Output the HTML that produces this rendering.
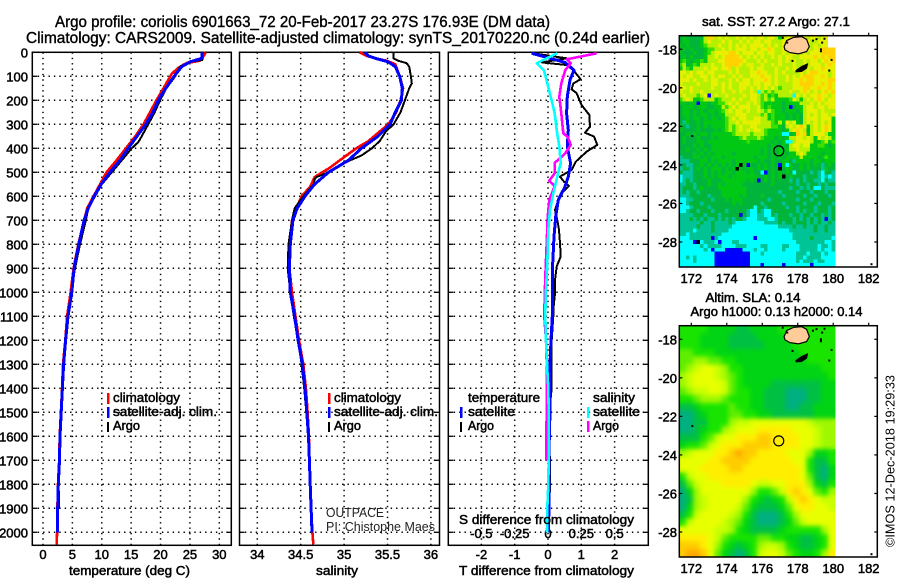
<!DOCTYPE html>
<html>
<head>
<meta charset="utf-8">
<title>Argo profile chart</title>
<style>
html,body{margin:0;padding:0;background:#fff;width:900px;height:580px;overflow:hidden}
svg{display:block}
text{font-family:"Liberation Sans",sans-serif;font-size:13px;fill:#000;stroke:#000;stroke-width:.5}
.thin{stroke-width:0;fill:#222}
</style>
</head>
<body>
<svg id="chart" width="900" height="580" viewBox="0 0 900 580" xmlns="http://www.w3.org/2000/svg">
  <defs>
    <filter id="sla-blur" color-interpolation-filters="sRGB"><feGaussianBlur stdDeviation="2.5"/></filter>
    <clipPath id="sla-clip"><rect x="679.3" y="325.7" width="155.7" height="231.3"/></clipPath>
  </defs>
  <g id="maps"></g>
  <g id="panels"></g>
  <text x="55" y="27" textLength="495" lengthAdjust="spacingAndGlyphs" style="font-size:16px;stroke-width:.4">Argo profile: coriolis 6901663_72 20-Feb-2017 23.27S 176.93E (DM data)</text>
  <text x="26" y="43" textLength="624" lengthAdjust="spacingAndGlyphs" style="font-size:16px;stroke-width:.4">Climatology: CARS2009. Satellite-adjusted climatology: synTS_20170220.nc (0.24d earlier)</text>

  <text x="69" y="575" textLength="121" lengthAdjust="spacingAndGlyphs">temperature (deg C)</text>
  <text x="316" y="575" textLength="42" lengthAdjust="spacingAndGlyphs">salinity</text>
  <text x="459" y="575" textLength="175" lengthAdjust="spacingAndGlyphs">T difference from climatology</text>

  <rect x="107" y="393" width="2.5" height="11" fill="#ff0000"/>
  <text x="113" y="402" textLength="67" lengthAdjust="spacingAndGlyphs">climatology</text>
  <rect x="107" y="407" width="2.5" height="11" fill="#0000ff"/>
  <text x="113" y="416" textLength="104" lengthAdjust="spacingAndGlyphs">satellite-adj. clim.</text>
  <rect x="107" y="422" width="2" height="10" fill="#000"/>
  <text x="113" y="430" textLength="27" lengthAdjust="spacingAndGlyphs">Argo</text>

  <rect x="328" y="393" width="2.5" height="11" fill="#ff0000"/>
  <text x="334" y="402" textLength="67" lengthAdjust="spacingAndGlyphs">climatology</text>
  <rect x="328" y="407" width="2.5" height="11" fill="#0000ff"/>
  <text x="334" y="416" textLength="104" lengthAdjust="spacingAndGlyphs">satellite-adj. clim.</text>
  <rect x="328" y="422" width="2" height="10" fill="#000"/>
  <text x="334" y="430" textLength="27" lengthAdjust="spacingAndGlyphs">Argo</text>

  <text class="thin" x="326" y="517" textLength="58" lengthAdjust="spacingAndGlyphs">OUTPACE</text>
  <text class="thin" x="326" y="531" textLength="109" lengthAdjust="spacingAndGlyphs">PI: Chistophe Maes</text>

  <text x="468" y="402" textLength="72" lengthAdjust="spacingAndGlyphs">temperature</text>
  <rect x="460" y="407" width="2.5" height="11" fill="#0000ff"/>
  <text x="468" y="416" textLength="47" lengthAdjust="spacingAndGlyphs">satellite</text>
  <rect x="460" y="422" width="2" height="10" fill="#000"/>
  <text x="468" y="430" textLength="26" lengthAdjust="spacingAndGlyphs">Argo</text>
  <text x="593" y="402" textLength="42" lengthAdjust="spacingAndGlyphs">salinity</text>
  <rect x="587" y="407" width="2.5" height="11" fill="#00ffff"/>
  <text x="593" y="416" textLength="47" lengthAdjust="spacingAndGlyphs">satellite</text>
  <rect x="587" y="421" width="2.5" height="11" fill="#ff00ff"/>
  <text x="593" y="430" textLength="26" lengthAdjust="spacingAndGlyphs">Argo</text>
  <text x="459" y="524" textLength="175" lengthAdjust="spacingAndGlyphs">S difference from climatology</text>

  <text x="776" y="26" text-anchor="middle" textLength="148" lengthAdjust="spacingAndGlyphs">sat. SST: 27.2 Argo: 27.1</text>
  <text x="753" y="302" text-anchor="middle" textLength="95" lengthAdjust="spacingAndGlyphs">Altim. SLA: 0.14</text>
  <text x="776.5" y="316" text-anchor="middle" textLength="172" lengthAdjust="spacingAndGlyphs">Argo h1000: 0.13 h2000: 0.14</text>
  <text class="thin" x="0" y="0" transform="translate(894.5,547) rotate(-90)" textLength="172" lengthAdjust="spacingAndGlyphs" style="fill:#000">©IMOS 12-Dec-2018 19:29:33</text>
</svg>
<script>
// ---- tick labels ----
const depthTicks = [0,100,200,300,400,500,600,700,800,900,1000,1100,1200,1300,1400,1500,1600,1700,1800,1900,2000];
const tempTicks = [0,5,10,15,20,25,30];
const salTicks = [34,34.5,35,35.5,36];
const tDiffTicks = [-2,-1,0,1,2];
const sDiffTicks = [-0.5,-0.25,0,0.25,0.5];
const sDiffLabels = ['-0.5','-0.25','0','0.25','0.5'];
const lonTicks = [172,174,176,178,180,182];
const latTicks = [-18,-20,-22,-24,-26,-28];

// ---- temperature profiles ----
const tempClimDepth = [0,25,35,45,65,90,150,200,250,300,350,400,450,500,550,600,650,700,800,900,1000,1100,1200,1300,1400,1500,1600,1700,1800,1900,2000,2050];
const tempClimValues = [27.7,27.1,26.7,24.4,23,21.9,20.5,19.3,18.2,17.1,15.7,14.1,12.5,10.8,9.7,8.6,7.5,7,6,5.2,4.7,4.1,3.8,3.4,3.25,3.05,2.85,2.75,2.55,2.45,2.4,2.33];
const tempSatDepth = [0,25,40,60,100,150,200,250,300,350,400,450,500,550,600,650,700,800,900,1000,1100,1200,1300,1400,1500,1600,1700,1800,1900,2000];
const tempSatValues = [27.1,27,25,23.6,22.3,20.9,19.6,18.7,17.5,16,14.5,13.1,11.4,9.9,8.7,7.7,7,6.1,5.3,4.9,4.25,3.85,3.5,3.3,3.1,2.9,2.8,2.6,2.5,2.45];
const tempArgoDepth = [0,32,39,60,100,150,200,250,300,350,375,400,450,500,550,600,650,700,800,900,1000,1100,1200,1300,1400,1500,1600,1700,1800,1900];
const tempArgoValues = [27.1,27.1,25,23.3,22.5,21,19.9,19,17.9,16.8,16.2,15.1,13.4,11.7,10,8.85,7.7,7.3,6.3,5.45,4.8,4.25,3.75,3.5,3.3,3.15,2.95,2.8,2.65,2.75];

// ---- salinity profiles ----
const salClimDepth = [0,15,25,35,50,100,150,200,250,300,330,370,400,450,480,520,560,600,650,700,800,900,1000,1100,1200,1300,1400,1500,1600,1700,1800,1900,2000,2050];
const salClimValues = [35.18,35.26,35.36,35.49,35.59,35.64,35.68,35.65,35.6,35.51,35.41,35.28,35.14,34.95,34.84,34.66,34.61,34.51,34.45,34.4,34.37,34.37,34.4,34.44,34.48,34.53,34.56,34.58,34.595,34.6,34.61,34.62,34.635,34.645];
const salSatDepth = [0,15,25,40,60,100,150,200,250,300,350,400,450,500,550,600,650,700,800,900,1000,1100,1200,1300,1400,1500,1600,1700,1800,1900,2000];
const salSatValues = [35.24,35.28,35.36,35.51,35.59,35.64,35.67,35.66,35.59,35.53,35.39,35.2,35.05,34.82,34.66,34.55,34.46,34.41,34.38,34.37,34.38,34.43,34.47,34.52,34.55,34.57,34.59,34.6,34.61,34.62,34.63];
const salArgoDepth = [0,25,35,45,60,100,130,150,200,250,300,330,370,400,430,450,480,500,520,530,550,600,650,700,800,900,1000,1100,1200,1300,1400,1500,1600,1700];
const salArgoValues = [35.57,35.57,35.62,35.72,35.75,35.77,35.78,35.75,35.7,35.65,35.57,35.48,35.41,35.32,35.2,35.07,34.91,34.82,34.68,34.66,34.65,34.53,34.43,34.4,34.36,34.35,34.38,34.42,34.47,34.51,34.54,34.565,34.585,34.595];

// ---- differences from climatology ----
const dTArgoDepth = [4,25,42,53,74,112,130,154,170,220,261,310,335,351,386,414,455,490,518,539,557,587,615,657,699,740,796,851,893,949,1004,1074,1100,1200,1300,1400,1500,1600,1700,1800,1900,2000];
const dTArgoValues = [-0.44,0.56,-0.19,0.56,0.76,0.98,0.76,0.71,0.86,1.01,1.24,1.26,1.11,1.38,1.48,1.16,0.84,0.71,0.36,0.48,0.63,0.41,0.31,0.21,0.28,0.33,0.36,0.38,0.26,0.21,0.21,0.16,0.16,0.11,0.11,0.11,0.04,0.02,0.06,0.06,0.04,0.01];
const dTSatDepth = [4,25,42,74,115,185,254,324,393,462,518,560,615,685,768,879,1018,1100,1200,1300,1400,1500,1600,1700,1800,1900,2000];
const dTSatValues = [-0.49,0.06,0.51,0.78,0.66,0.58,0.56,0.61,0.58,0.68,0.61,0.51,0.31,0.23,0.18,0.14,0.14,0.13,0.09,0.06,0.06,0.06,0.04,0.03,0.03,0.03,0.01];
const dSArgoDepth = [4,29,46,74,129,185,254,337,354,386,421,442,460,504,535,557,615,685,796,935,1018,1100,1200,1300,1400,1500,1600,1700];
const dSArgoValues = [0.365,0.14,0.17,0.13,0.1,0.085,0.1,0.115,0.15,0.17,0.13,0.09,0.05,0.05,0.01,0.05,0.01,-0.0025,-0.01,-0.02,-0.025,-0.0275,-0.015,-0.01,-0.0075,-0.01,-0.0125,-0.0125];
const dSSatDepth = [4,25,46,76,129,185,254,324,393,462,518,587,657,740,879,1018,1100,1200,1300,1400,1500,1600,1700,1800,1900,2000];
const dSSatValues = [0.07,-0.01,-0.085,-0.03,-0.005,0.02,0.05,0.065,0.085,0.095,0.07,0.04,0.015,0.0025,-0.005,-0.0175,-0.02,-0.015,-0.0075,0.0025,0.005,0.005,0.005,0.0025,-0.005,-0.0075];

// ---- SST grid: 44 columns x 60 rows, 0.2 degree cells, from 17.3S, 171.3E ----
const sstRows = [
"cdcccccfhhf gfgffgfgfgf ggfggfdfggg gfgfggfgg..",
"cddcccdfgff fgfgffgfgfg gfggfffgggg ggfgffggg..",
"dcdcccdefff gffgfgfgfgg ggfgfgfgggg ggfgfgfgg..",
"cdcdcccdeef fgfgfgggfgg fgghgffgggg gfggfgghhhh",
"dcccdccdefg ggghhgfgggf ggfggffgfgg gfgfggghhhh",
"cdcdcccdffg fghhhhgfgfg fgffgfgfggf fgggghghghh",
"dedcddedfff gghhhhhgfff gfgfffgfgfg ffgfggfghgh",
"efcdedfffgf fghhhhgfggf fgffgfgfffg ffgfgggfghg",
"dfedfffgfgg fgghfgfffgf ggfffgffgfg fgfgfgghggg",
"ggfgfggfggf fffgfgfffgg hggffgfgfff fgfghhgggfg",
"gfggffggfgf ggffgfgffgg ghggfgffgfg fghhhgghgfg",
"gggfgffgfgg fffgfgfggfg gghgfgffgfg ghghhgggghh",
"gffffgfffgg fgfgffgggfg gfggfgffffg ghhhhgghghg",
"ggfgfffffgf fgfgffggfgf gfgfgfefffg gghhgghgghg",
"gffgffgffff fgffgfgffgf afefeffffgf fghgfgfghgh",
"fgfffefgBfg ffgffffgfgg fefdedffffa gfgfgghggfg",
"efgfddefffd efffgfgffgg fefefddddeg fdfgfghgfgg",
"ddcddBddcdd eefgfgffgfg fedddddcddd dfffgfgfggg",
"cdddcdddccd dfefgfgggff gededddcdBc ddfggfggfgg",
"cddcdcdcddc defgfggfgff gfefeddcddd cdfgggfgfff",
"cddcdcddcdc ddfffgggfff fefdedddcdc dcfgfgfggfg",
"ccdcddcdcdd cdefgfggffg gffdedddcdc dcfgggfgggd",
"cbdccdcdddd ddeffgfgggg gfffedfdgfg dcfgfgfgfgd",
"dcbccdcdcdd ddefefgffgg ffffeedcfgf ghgdfgfghgd",
"dccccdccccd cdefefgfgfg gfeddddcdfg hgfcfgfghgd",
"ccdcdcddcdd ddddeffffef ffeddddaacd hghdfgggfdd",
"cdcccdcccdc ddddddefeee fedddcdcdff ggfgfdgfgfd",
"cdcccddcddd ddddddddedd ddddcdcdaaf ggggfddefde",
"ccccdcdccdd ddddddddddd dddcdccdcfg gfggddeedcd",
"ccdccdcdcdd ddddddddddd dcdcdcdcdff gfffddddddd",
"ccccdcdcdcd ddddcdddddd dcdcdcddcdd fgfddddcddd",
"bcccddcdcdd dcddddddddc dddcdcdcddd dfddddcdedd",
"bbbcccddcdc ddddcdddddd cdccdccddcb ddddcddcddd",
"bcbbccdcdcd cdcdcdKdBcc dcdcdcBdadc cdcdcdcbcdc",
"bccbcdcdcdd dcdcdKdcddc dcdcdcKcddc cdcdcccbdcc",
"cbbbcccdcdc dcddcdddcdc caBcdcdcdca ccccbcbaccb",
"abbbcccdcdc dddcddddddd ccdcdcdKcdc ccbcccbabab",
"abcbccccdcc cdddddddcdc Bcdcdccccbc bcbccbbacbb",
"bbccbcccdcc dcdddddcccc ccccdcccccc bccbccbcbcc",
"bcccbcdcccc ddddddddccc cccccccccbc cbcbcaacbbb",
"bcbccbccccc cdddddddccc ccccccbcccc bcccbcccbcc",
"bbbcccccbcc cdddddcdccc cdcccccbccc ccbccbcccbc",
"aabbcccccbc ccdcdddcccc cccbccccccc bcccbcccccc",
"aabcccbcccc ccccdcdcccc cbcccccbccc ccbcccbcccb",
"aaabccccbcc cccccccccca ccbcccccbcc bccccbcccbc",
"aabccbcccbc ccbcccccbaa cbaaccccccc bcbccbcccbc",
"bbbbcccbccc bcccccBcbaa bbaacbcccbc cbccbccbcbc",
"bbbcbcbcbbc bcbcbccbaaa bbbaabccccb cbcbcbcbBbc",
"bbbbbbcbbcb bbbcbaaaaaa aabbbbcbccb cccbcbcbbcb",
"bbbbbcbbbcb bbbbaaaaaaa aaaaaabbbbc bbcbbcbbcbb",
"bbbbabbbbcb bbbaaaaaaaa aaaaaaaaabb bbbbbcbbcbb",
"bbabbbbbbbb baaaaaaaaaa aaaaaaaaaab bbbbbbbbbbb",
"aaabbbbbbBb aaaaaaaaaaB aaaaaaaaaab bbbbcbbbbba",
"aaaaBKabbba Baaabbaaaaa aaaaaaaaaaa bbbbbbbbaab",
"aaaaaababbb baaaabbbaaa abbaaaabbaa abbbbbabbab",
"aaaaaaabaBa aaBBBBBaaab aabaaaabaaa abbbbbabaab",
"aaaaaaaaaaB BBBBBBBBBaa abaaaaaaaaa bbbabbbabaa",
"aababaaaaaB BBBBBBBBBaa aaaaaaaaaaa bbabbbbaaaa",
"aaaabaaaaaB BBBBBBBBBaa aaaaaaaaaaa babbbabbaaa",
"aaaaaaaaaaB BBBBBBBBBaa aBaaaaaBaaa aaaaBaaaaaa"
];
const sstPalette = {a:'#00ffff',b:'#00c496',c:'#00b43c',d:'#00c814',e:'#3ce000',f:'#b4f000',g:'#e6f000',h:'#ffd200',B:'#0000ff',K:'#000000'};

// ---- Sea level anomaly grid: 22 columns x 30 rows, 0.4 degree cells ----
const slaRows = [
"3333222211222233333333",
"3332222111122223333333",
"3332222111112222333333",
"4433322222222222233333",
"4455443322222222223333",
"4567765332222222222233",
"5677765432222222222223",
"5677776432222111111122",
"4566776433221110001122",
"3345554333221110001122",
"1123333433221110011222",
"0012333443322111111222",
"0011333566777777776555",
"0012335677788888777655",
"1113467788899888877655",
"2334678889999888877655",
"5677788" + "9A99" + "8888" + "777" + "5223",
"7777889999888888773113",
"7778888998888888873102",
"3677" + "8888888888888" + "7" + "4102",
"1467778888766778885213",
"0257777777533468987435",
"0156777775321236898766",
"0256777764211124788776",
"1367777653100013577777",
"3677776542100012467777",
"7777766532111123333357",
"8888764333344332211237",
"9998753212356653211237",
"9AA9742101367764322358"
];
const slaPalette = {'0':'#00b080','1':'#00c044','2':'#00d414','3':'#18e400','4':'#60ee00','5':'#a0f800','6':'#c8ff00','7':'#e8ff00','8':'#ffee00','9':'#ffcc00','A':'#ffaa00'};

// ---- geography (lon, lat) ----
const mainIslandLon = [177.23,177.38,177.75,178.22,178.5,178.65,178.5,178.03,177.56,177.28];
const mainIslandLat = [-17.86,-17.55,-17.38,-17.34,-17.48,-17.86,-18.12,-18.24,-18.17,-18.03];
const smallIslandLon = [177.9,178.22,178.55,178.5,178.22,177.9];
const smallIslandLat = [-19.1,-18.9,-18.76,-18.98,-19.15,-19.17];
const isletLon = [177.1,177.35,178.8,179.0,179.25,179.25,179.32,179.45,179.85,179.72,177.65,172.0,182.1];
const isletLat = [-17.35,-17.6,-17.5,-17.42,-17.95,-18.05,-17.6,-17.4,-18.5,-19.05,-18.55,-22.45,-29.1];
const profileLon = [176.93];
const profileLat = [-23.27];

// ---- axis functions ----
const yDepth = d => 52.3 + d * 0.24;
const xTemp = t => 43 + t * 5.877;
const xSal = s => 257.3 + (s - 34) * 86.8;
const xDT = t => 548 + t * 33.3;
const xDS = s => 548 + s * 133.3;
const xLon = lon => 691.3 + (lon - 172) * 17.74;
const yLat = lat => 49.3 + (-18 - lat) * 19.27;

const NS = 'http://www.w3.org/2000/svg';
const panels = document.getElementById('panels');
const maps = document.getElementById('maps');
function mk(tag, attrs, parent) {
  const e = document.createElementNS(NS, tag);
  for (const k in attrs) e.setAttribute(k, attrs[k]);
  parent.appendChild(e);
  return e;
}
function pointsOf(xs, ys) { return xs.map((x, i) => x.toFixed(1) + ',' + ys[i].toFixed(1)).join(' '); }

// ---- profile panels ----
const panelDefs = [
  {key:'temperature', left:32.3, right:231.3, ticks:tempTicks, xf:xTemp, labels:tempTicks.map(String)},
  {key:'salinity', left:239.5, right:439.5, ticks:salTicks, xf:xSal, labels:['34','34.5','35','35.5','36']},
  {key:'difference', left:448.3, right:648.3, ticks:tDiffTicks, xf:xDT, labels:tDiffTicks.map(String)}
];
const TOP = 52.3, BOTTOM = 545.3;
panelDefs.forEach(p => {
  const g = mk('g', {}, panels);
  
  
  depthTicks.forEach(d => {
    const l = mk('line', {x1:p.left, x2:p.right, y1:yDepth(d), y2:yDepth(d), stroke:'#000', 'stroke-width':1.5, 'stroke-dasharray':'1.4 4'}, g);
    
    
    const a = mk('line', {x1:p.left, x2:p.left + 5, y1:yDepth(d), y2:yDepth(d), stroke:'#000', 'stroke-width':1.3}, g);
    
    
    const b = mk('line', {x1:p.right - 5, x2:p.right, y1:yDepth(d), y2:yDepth(d), stroke:'#000', 'stroke-width':1.3}, g);
    
    
  });
  p.ticks.forEach((t, i) => {
    const x = p.xf(t);
    const l = mk('line', {x1:x, x2:x, y1:TOP, y2:BOTTOM, stroke:'#000', 'stroke-width':1.5, 'stroke-dasharray':'1.4 4'}, g);
    
    
    const tx = mk('text', {x:x, y:559, 'text-anchor':'middle'}, g);
    tx.textContent = p.labels[i];
    
    
  });
  const box = mk('rect', {x:p.left, y:TOP, width:p.right - p.left, height:BOTTOM - TOP, fill:'none', stroke:'#000', 'stroke-width':1.5}, g);
  
  
});
depthTicks.forEach(d => {
  const t = mk('text', {x:28, y:yDepth(d) + 5, 'text-anchor':'end'}, panels);
  t.textContent = d;
  
  
});
sDiffTicks.forEach((s, i) => {
  const t = mk('text', {x:xDS(s), y:538, 'text-anchor':'middle'}, panels);
  t.textContent = sDiffLabels[i];
  
  
});

const seriesDefs = [
  {name:'temp-climatology', d:tempClimDepth, v:tempClimValues, xf:xTemp, c:'#ff0000', w:2.6},
  {name:'temp-argo', d:tempArgoDepth, v:tempArgoValues, xf:xTemp, c:'#000000', w:2},
  {name:'temp-satellite', d:tempSatDepth, v:tempSatValues, xf:xTemp, c:'#0000ff', w:3},
  {name:'sal-climatology', d:salClimDepth, v:salClimValues, xf:xSal, c:'#ff0000', w:2.6},
  {name:'sal-argo', d:salArgoDepth, v:salArgoValues, xf:xSal, c:'#000000', w:2},
  {name:'sal-satellite', d:salSatDepth, v:salSatValues, xf:xSal, c:'#0000ff', w:3},
  {name:'t-diff-argo', d:dTArgoDepth, v:dTArgoValues, xf:xDT, c:'#000000', w:2},
  {name:'t-diff-satellite', d:dTSatDepth, v:dTSatValues, xf:xDT, c:'#0000ff', w:3},
  {name:'s-diff-argo', d:dSArgoDepth, v:dSArgoValues, xf:xDS, c:'#ff00ff', w:2.6},
  {name:'s-diff-satellite', d:dSSatDepth, v:dSSatValues, xf:xDS, c:'#00ffff', w:2.6}
];
seriesDefs.forEach(s => {
  const line = mk('polyline', {points:pointsOf(s.v.map(s.xf), s.d.map(yDepth)), fill:'none', stroke:s.c, 'stroke-width':s.w, 'stroke-linejoin':'round', 'shape-rendering':'crispEdges'}, panels);
  
  
});

// ---- maps ----
const MAP_LEFT = 679.3, MAP_RIGHT = 877.3, MAP_W = MAP_RIGHT - MAP_LEFT, MAP_H = 231.3;
function drawMapFrame(g, top, labelY) {
  const off = top - 35.7;
  const island = mk('polygon', {points:pointsOf(mainIslandLon.map(xLon), mainIslandLat.map(v => yLat(v) + off)), fill:'#ffcc99', stroke:'#000', 'stroke-width':1.2}, g);
  
  
  const small = mk('polygon', {points:pointsOf(smallIslandLon.map(xLon), smallIslandLat.map(v => yLat(v) + off)), fill:'#000', stroke:'#000', 'stroke-width':1}, g);
  
  
  isletLon.forEach((lon, i) => {
    const r = mk('rect', {x:xLon(lon), y:yLat(isletLat[i]) + off, width:2, height:2, fill:'#000'}, g);
    
    
  });
  profileLon.forEach((lon, i) => {
    const c = mk('circle', {cx:xLon(lon), cy:yLat(profileLat[i]) + off, r:5, fill:'none', stroke:'#000', 'stroke-width':1.2}, g);
    
    
  });
  const frame = mk('rect', {x:MAP_LEFT, y:top, width:MAP_W, height:MAP_H, fill:'none', stroke:'#000', 'stroke-width':1.5}, g);
  
  
  lonTicks.forEach(lon => {
    const x = xLon(lon);
    const m = mk('line', {x1:x, x2:x, y1:top - 3, y2:top, stroke:'#000', 'stroke-width':1.2}, g);
    
    
    const t = mk('text', {x:x, y:labelY, 'text-anchor':'middle'}, g);
    t.textContent = lon;
    
    
  });
  latTicks.forEach(lat => {
    const y = yLat(lat) + off;
    const a = mk('line', {x1:MAP_LEFT, x2:MAP_LEFT + 3, y1:y, y2:y, stroke:'#000', 'stroke-width':1.2}, g);
    
    
    const b = mk('line', {x1:MAP_RIGHT - 3, x2:MAP_RIGHT, y1:y, y2:y, stroke:'#000', 'stroke-width':1.2}, g);
    
    
    const t = mk('text', {x:677, y:y + 5, 'text-anchor':'end'}, g);
    t.textContent = lat;
    
    
  });
}

const sstGroup = mk('g', {}, maps);


sstRows.map(r => r.replace(/ /g, '')).forEach((row, i) => {
  [...row].forEach((ch, j) => {
    if (!sstPalette[ch]) return;
    const x0 = xLon(171.3 + j * 0.2), x1 = xLon(171.3 + (j + 1) * 0.2);
    const y0 = yLat(-17.3 - i * 0.2), y1 = yLat(-17.3 - (i + 1) * 0.2);
    const cell = mk('rect', {x:x0, y:y0, width:x1 - x0 + 0.3, height:y1 - y0 + 0.3, fill:sstPalette[ch], 'shape-rendering':'crispEdges'}, sstGroup);
    
    
  });
});
drawMapFrame(sstGroup, 35.7, 283);

const slaGroup = mk('g', {}, maps);


const slaCells = mk('g', {id:'sla-cells'}, slaGroup);


const SLA_OFF = 325.7 - 35.7;
slaRows.forEach((row, i) => {
  [...row].forEach((ch, j) => {
    const x0 = xLon(171.3 + j * 0.4), x1 = xLon(171.3 + (j + 1) * 0.4);
    const y0 = yLat(-17.3 - i * 0.4) + SLA_OFF, y1 = yLat(-17.3 - (i + 1) * 0.4) + SLA_OFF;
    const cell = mk('rect', {x:x0, y:y0, width:x1 - x0 + 0.3, height:y1 - y0 + 0.3, fill:slaPalette[ch], 'shape-rendering':'crispEdges'}, slaCells);
    
    
  });
});
const slaSmooth = mk('use', {href:'#sla-cells', filter:'url(#sla-blur)', 'clip-path':'url(#sla-clip)'}, slaGroup);


drawMapFrame(slaGroup, 325.7, 573);
</script>
</body>
</html>
